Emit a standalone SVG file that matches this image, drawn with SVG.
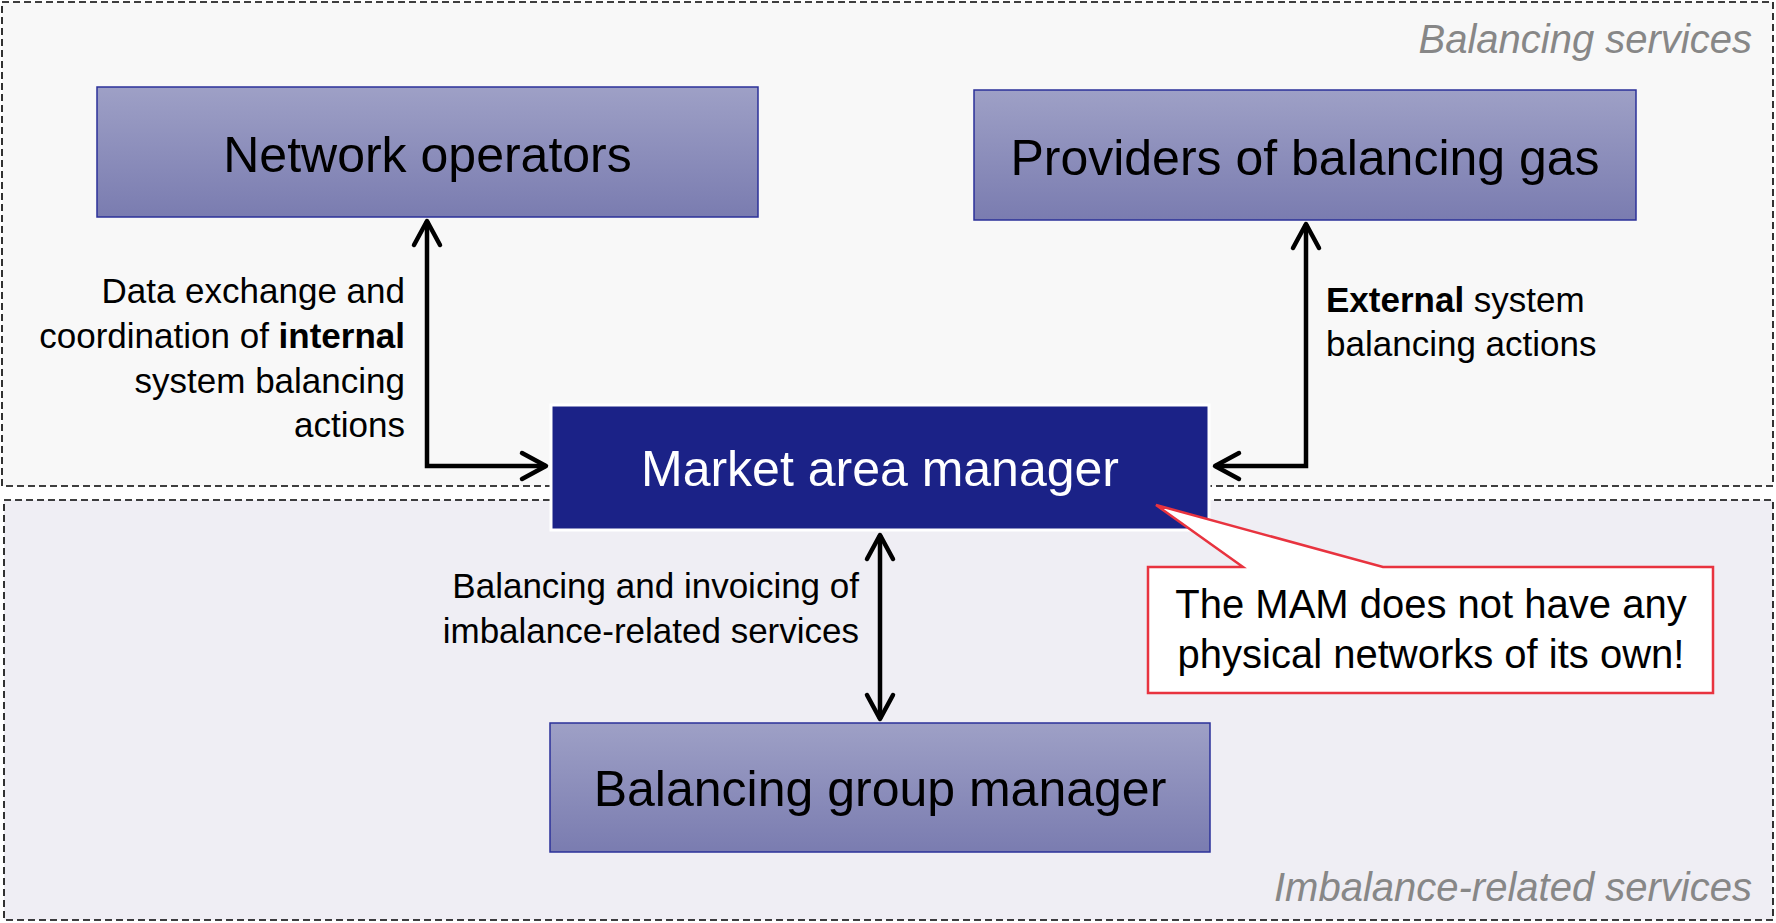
<svg xmlns="http://www.w3.org/2000/svg" width="1776" height="923" viewBox="0 0 1776 923">
<style>
.region{stroke:#000;stroke-width:1.6;stroke-dasharray:7 4}
.box{stroke:#2b3199;stroke-width:1.5;fill:url(#g)}
.t{font-family:"Liberation Sans",Arial,sans-serif;fill:#000}
.big{font-size:50px}
.lbl{font-size:35px}
.reg{font-size:40px;font-style:italic;fill:#878787}
.conn{fill:none;stroke:#000;stroke-width:4.5;marker-start:url(#ah);marker-end:url(#ah)}
</style>
<defs>
<linearGradient id="g" x1="0" y1="0" x2="0" y2="1">
<stop offset="0" stop-color="#9ea0c6"/>
<stop offset="1" stop-color="#7a7cb0"/>
</linearGradient>
<marker id="ah" markerUnits="userSpaceOnUse" markerWidth="32" markerHeight="32" refX="27" refY="15" orient="auto-start-reverse" overflow="visible">
<path d="M3,2 L27,15 L3,28" fill="none" stroke="#000" stroke-width="4.5" stroke-linecap="round" stroke-linejoin="round"/>
</marker>
</defs>
<g id="region-balancing">
<rect class="region" x="2" y="2" width="1771" height="484" fill="#f8f8f8"/>
<text class="t reg" x="1752" y="53" text-anchor="end">Balancing services</text>
</g>
<g id="region-imbalance">
<rect class="region" x="4" y="500" width="1769" height="420" fill="#efeef4"/>
<text class="t reg" x="1752" y="901" text-anchor="end">Imbalance-related services</text>
</g>
<g id="network-operators">
<rect class="box" x="97" y="87" width="661" height="130"/>
<text class="t big" x="427.5" y="172" text-anchor="middle">Network operators</text>
</g>
<g id="providers">
<rect class="box" x="974" y="90" width="662" height="130"/>
<text class="t big" x="1305" y="175" text-anchor="middle">Providers of balancing gas</text>
</g>
<g id="market-area-manager">
<rect x="551" y="405" width="658" height="125" fill="#1b2287" stroke="#fff" stroke-width="3"/>
<text class="t big" x="880" y="486" text-anchor="middle" style="fill:#fff">Market area manager</text>
</g>
<g id="balancing-group-manager">
<rect class="box" x="550" y="723" width="660" height="129"/>
<text class="t big" x="880" y="806" text-anchor="middle">Balancing group manager</text>
</g>
<g id="connectors">
<path class="conn" d="M427,221 L427,466 L546,466"/>
<path class="conn" d="M1306,224 L1306,466 L1215,466"/>
<path class="conn" d="M880,535 L880,719"/>
</g>
<g id="labels">
<text class="t lbl" text-anchor="end"><tspan x="405" y="303">Data exchange and</tspan><tspan x="405" y="348">coordination of <tspan font-weight="bold">internal</tspan></tspan><tspan x="405" y="393">system balancing</tspan><tspan x="405" y="437">actions</tspan></text>
<text class="t lbl"><tspan x="1326" y="312"><tspan font-weight="bold">External</tspan> system</tspan><tspan x="1326" y="356">balancing actions</tspan></text>
<text class="t lbl" text-anchor="end"><tspan x="859" y="598">Balancing and invoicing of</tspan><tspan x="859" y="643">imbalance-related services</tspan></text>
</g>
<g id="callout">
<path d="M1148,567 L1243,567 L1156,505 L1383,567 L1713,567 L1713,693 L1148,693 Z" fill="#fff" stroke="#e8333f" stroke-width="2.5"/>
<text class="t" font-size="40" text-anchor="middle"><tspan x="1431" y="618">The MAM does not have any</tspan><tspan x="1431" y="668">physical networks of its own!</tspan></text>
</g>
</svg>
